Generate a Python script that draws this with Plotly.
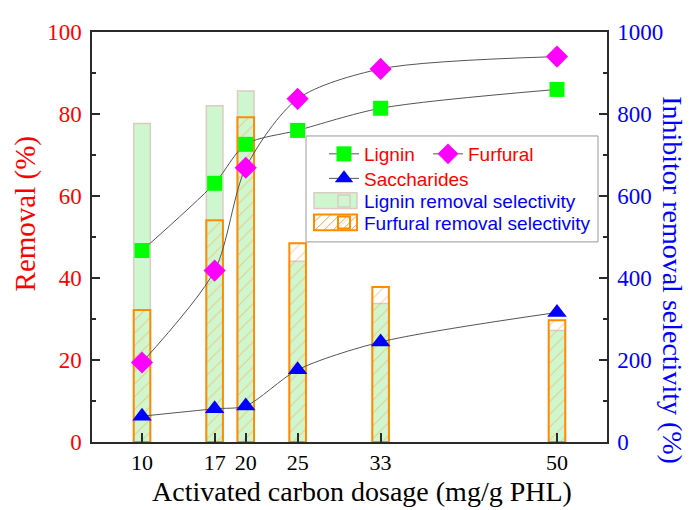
import plotly.graph_objects as go

dosage = [10, 17, 20, 25, 33, 50]
tick_labels = ["10", "17", "20", "25", "33", "50"]

lignin_removal = [46.7, 63.1, 72.6, 76.0, 81.4, 86.0]
furfural_removal = [19.4, 41.8, 66.9, 83.7, 91.0, 94.0]
saccharides_removal = [6.3, 8.1, 8.8, 17.6, 24.4, 31.6]

lignin_selectivity = [777, 820, 856, 441, 338, 272]
furfural_selectivity = [322, 541, 792, 485, 378, 297]

SERIF = "Liberation Serif, Times New Roman, serif"
SANS = "Liberation Sans, Arial, sans-serif"
AX = "#2a2a2a"

# screen geometry of the plot area (page has an 8px body margin)
PL, PR, PT, PB = 92, 607, 24, 442


def px(x):
    return (x - PL) / (PR - PL)


def py(y):
    return (PB - y) / (PB - PT)


fig = go.Figure()

# Bars on primary y (selectivity, right side)
fig.add_trace(go.Bar(
    x=dosage, y=lignin_selectivity, width=1.6,
    name='<span style="color:#0000ff">Lignin removal selectivity</span>',
    marker=dict(color="#cff7cf", line=dict(color="#dccbc3", width=1.5)),
    legend="legend4", yaxis="y", showlegend=True,
))
fig.add_trace(go.Bar(
    x=dosage, y=furfural_selectivity, width=1.6,
    name='<span style="color:#0000ff">Furfural removal selectivity</span>',
    marker=dict(color="rgba(0,0,0,0)", line=dict(color="#ff8c00", width=2),
                pattern=dict(shape="/", fgcolor="#ffa040", bgcolor="rgba(0,0,0,0)",
                             size=9, solidity=0.12)),
    legend="legend5", yaxis="y", showlegend=True,
))

# Scatter on y2 (removal, left side) drawn above bars
line_style = dict(color="#555555", width=1, shape="spline", smoothing=0.8)
fig.add_trace(go.Scatter(
    x=dosage, y=lignin_removal, mode="lines+markers",
    name='<span style="color:#ff0000">Lignin</span>',
    line=line_style,
    marker=dict(symbol="square", size=15, color="#00ff00"),
    legend="legend", yaxis="y2", showlegend=True,
))
fig.add_trace(go.Scatter(
    x=dosage, y=furfural_removal, mode="lines+markers",
    name='<span style="color:#ff0000">Furfural</span>',
    line=line_style,
    marker=dict(symbol="diamond", size=17, color="#ff00ff"),
    legend="legend2", yaxis="y2", showlegend=True,
))
fig.add_trace(go.Scatter(
    x=dosage, y=saccharides_removal, mode="lines+markers",
    name='<span style="color:#ff0000">Saccharides</span>',
    line=line_style,
    marker=dict(symbol="triangle-up", size=17, color="#0000ff"),
    legend="legend3", yaxis="y2", showlegend=True,
))


def leg(x_screen, row_center):
    return dict(
        visible=True,
        orientation="v", x=px(x_screen), y=py(row_center - 19),
        xanchor="left", yanchor="top",
        bgcolor="rgba(0,0,0,0)", borderwidth=0,
        font=dict(family=SANS, size=19, color="#ff0000"),
    )


ROWS = [148, 173, 196, 218]

# legend box + wide bar-legend symbols
shapes = [dict(
    type="rect", xref="paper", yref="paper",
    x0=px(306), x1=px(598), y0=py(238), y1=py(130),
    line=dict(color="#9a9a9a", width=1), fillcolor="white", layer="above",
)]
shapes.append(dict(
    type="rect", xref="paper", yref="paper",
    x0=px(314), x1=px(357), y0=py(ROWS[2] + 8), y1=py(ROWS[2] - 8),
    line=dict(color="#dccbc3", width=1.5), fillcolor="#cff7cf", layer="above",
))
# hatch lines for furfural symbol
y0h, y1h = ROWS[3] + 8, ROWS[3] - 8
hatch = ""
for xs in range(306, 357, 9):
    xa, ya = xs, y0h
    xb, yb = xs + 16, y1h
    if xa < 314:
        ya = y0h - (314 - xa)
        xa = 314
    if xb > 357:
        yb = y1h + (xb - 357)
        xb = 357
    if xa < xb:
        hatch += f"M{px(xa):.5f},{py(ya):.5f} L{px(xb):.5f},{py(yb):.5f} "
shapes.append(dict(type="path", xref="paper", yref="paper", path=hatch,
                   line=dict(color="#ffa040", width=1), layer="above"))
shapes.append(dict(
    type="rect", xref="paper", yref="paper",
    x0=px(314), x1=px(357), y0=py(ROWS[3] + 8), y1=py(ROWS[3] - 8),
    line=dict(color="#ff8c00", width=2), fillcolor="rgba(0,0,0,0)", layer="above",
))

fig.update_layout(
    width=683, height=502,
    showlegend=True,
    margin=dict(l=PL - 8, r=683 - (PR - 8), t=PT - 8, b=502 - (PB - 8)),
    paper_bgcolor="white", plot_bgcolor="white",
    barmode="overlay",
    xaxis=dict(
        range=[5.18, 54.82], tickvals=dosage, ticktext=tick_labels,
        ticks="inside", ticklen=9, tickwidth=1.5, tickcolor=AX,
        showline=True, linecolor=AX, linewidth=1.5, mirror=True,
        showgrid=False, zeroline=False,
        tickfont=dict(family=SERIF, size=22, color="black"),
    ),
    yaxis=dict(
        range=[0, 1000], tickvals=[0, 200, 400, 600, 800, 1000], side="right",
        ticks="inside", ticklen=8, tickwidth=1.5, tickcolor=AX,
        minor=dict(ticks="inside", ticklen=4, dtick=100, tickcolor=AX, tickwidth=1.5),
        showline=True, linecolor=AX, linewidth=1.5,
        showgrid=False, zeroline=False, ticklabelstandoff=4,
        tickfont=dict(family=SERIF, size=23, color="#0000ff"),
    ),
    yaxis2=dict(
        range=[0, 100], tickvals=[0, 20, 40, 60, 80, 100], side="left",
        overlaying="y",
        ticks="inside", ticklen=8, tickwidth=1.5, tickcolor=AX,
        minor=dict(ticks="inside", ticklen=4, dtick=10, tickcolor=AX, tickwidth=1.5),
        showline=True, linecolor=AX, linewidth=1.5,
        showgrid=False, zeroline=False, ticklabelstandoff=4,
        tickfont=dict(family=SERIF, size=23, color="#ff0000"),
    ),
    legend=leg(324, ROWS[0]),
    legend2=leg(428, ROWS[0]),
    legend3=leg(324, ROWS[1]),
    legend4=leg(324, ROWS[2]),
    legend5=leg(324, ROWS[3]),
    shapes=shapes,
    annotations=[
        dict(text="Removal (%)", xref="paper", yref="paper",
             x=px(25), y=py(210), textangle=-90,
             showarrow=False, xanchor="center", yanchor="middle",
             font=dict(family=SERIF, size=29, color="#ff0000")),
        dict(text="Inhibitor removal selectivity (%)", xref="paper", yref="paper",
             x=px(673), y=py(277), textangle=90,
             showarrow=False, xanchor="center", yanchor="middle",
             font=dict(family=SERIF, size=28, color="#0000ff")),
        dict(text="Activated carbon dosage (mg/g PHL)", xref="paper", yref="paper",
             x=px(362), y=py(492),
             showarrow=False, xanchor="center", yanchor="middle",
             font=dict(family=SERIF, size=28, color="black")),
    ],
)

fig.write_html("out.html")
